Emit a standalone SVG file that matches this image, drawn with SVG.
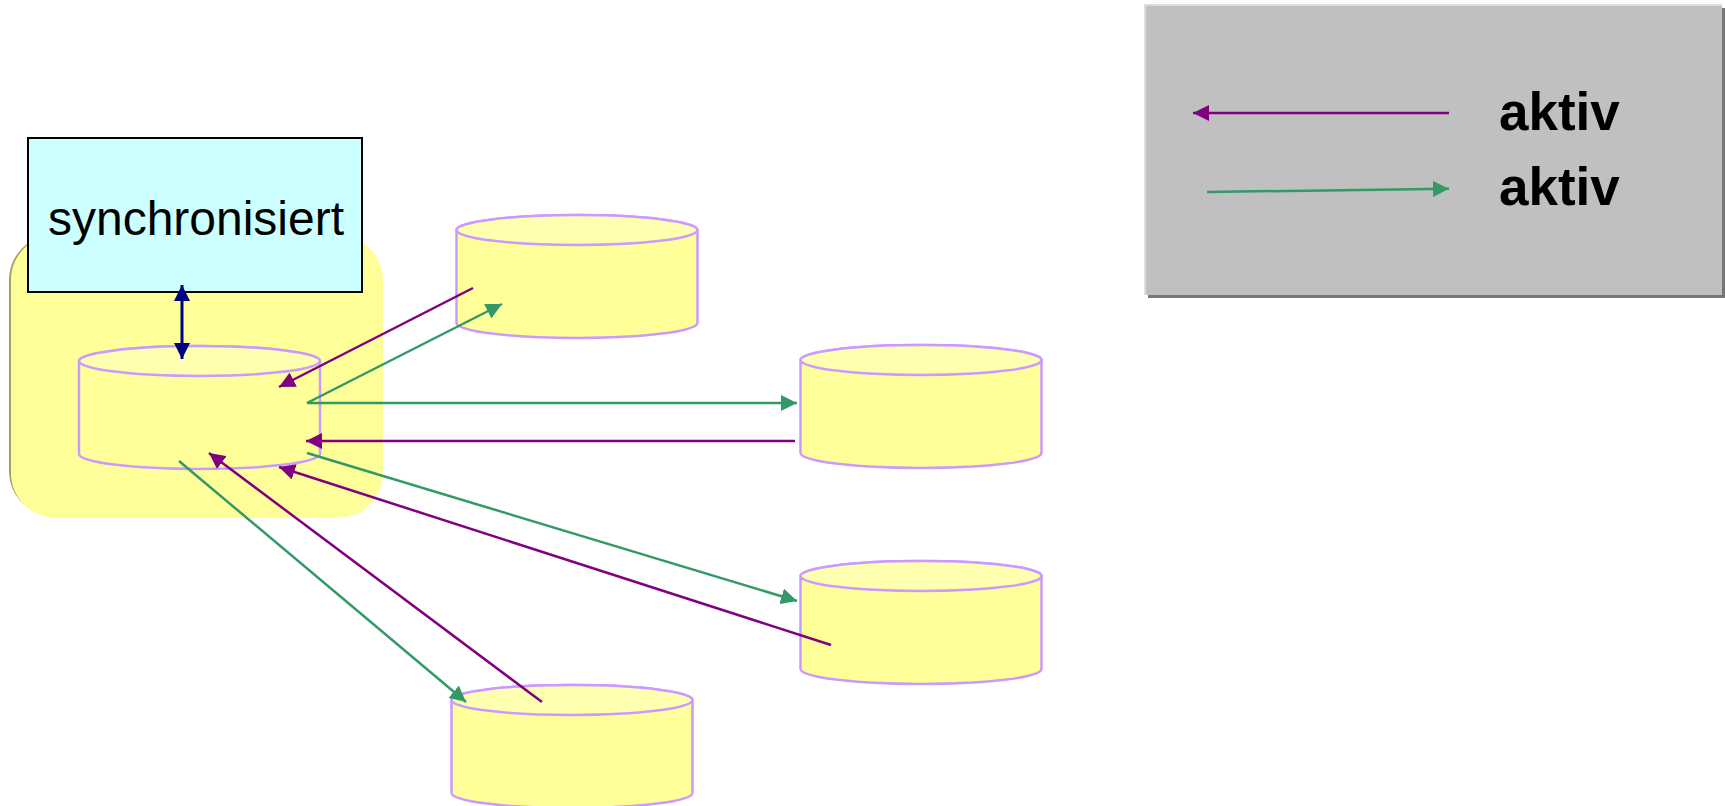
<svg xmlns="http://www.w3.org/2000/svg" width="1725" height="806" viewBox="0 0 1725 806">
<style>
.cylbody{fill:#ffff99;stroke:#cc99ff;stroke-width:2.5}
.cyltop{fill:#ffffb0;stroke:#cc99ff;stroke-width:2.5}
.p{stroke:#800080;stroke-width:2.5;fill:none;marker-end:url(#ap)}
.g{stroke:#339966;stroke-width:2.5;fill:none;marker-end:url(#ag)}
.lbl{font-family:"Liberation Sans",Arial,sans-serif;fill:#000}
</style>
<defs>
<marker id="ap" markerUnits="userSpaceOnUse" markerWidth="17" markerHeight="16" viewBox="0 0 17 16" refX="16" refY="8" orient="auto"><path d="M0,0 L16,8 L0,16 z" fill="#800080"/></marker>
<marker id="ag" markerUnits="userSpaceOnUse" markerWidth="17" markerHeight="16" viewBox="0 0 17 16" refX="16" refY="8" orient="auto"><path d="M0,0 L16,8 L0,16 z" fill="#339966"/></marker>
<marker id="an" markerUnits="userSpaceOnUse" markerWidth="17" markerHeight="16" viewBox="0 0 17 16" refX="16" refY="8" orient="auto-start-reverse"><path d="M0,0 L16,8 L0,16 z" fill="#000080"/></marker>
<g id="cyl">
<path class="cylbody" d="M0,15 V108 A120.5,15 0 0 0 241,108 V15 A120.5,15 0 0 0 0,15 Z"/>
<ellipse class="cyltop" cx="120.5" cy="15" rx="120.5" ry="15"/>
</g>
</defs>

<g id="site-bg">
<rect x="9" y="235" width="372" height="281" rx="45" ry="45" fill="#a6a264"/>
<rect x="11" y="235" width="372" height="283" rx="45" ry="45" fill="#ffff99"/>
</g>

<g id="sync-box">
<rect x="28" y="138" width="334" height="154" fill="#ccffff" stroke="#000" stroke-width="2"/>
<text class="lbl" x="196" y="235" font-size="48" text-anchor="middle">synchronisiert</text>
</g>

<g id="db-main"><use href="#cyl" x="79" y="346"/></g>
<g id="db-2"><use href="#cyl" x="456.5" y="215"/></g>
<g id="db-3"><use href="#cyl" x="800.5" y="345"/></g>
<g id="db-4"><use href="#cyl" x="800.5" y="561"/></g>
<g id="db-5"><use href="#cyl" x="451.5" y="685"/></g>

<g id="connectors">
<line x1="182" y1="285" x2="182" y2="359" stroke="#000080" stroke-width="3" marker-start="url(#an)" marker-end="url(#an)"/>
<line class="p" x1="473" y1="288" x2="279" y2="387"/>
<line class="g" x1="307" y1="403" x2="502" y2="304"/>
<line class="g" x1="307" y1="403" x2="797" y2="403"/>
<line class="p" x1="795" y1="441" x2="306" y2="441"/>
<line class="g" x1="307" y1="453" x2="797" y2="601"/>
<line class="p" x1="831" y1="645" x2="279" y2="467"/>
<line class="g" x1="179" y1="461" x2="466" y2="702"/>
<line class="p" x1="542" y1="702" x2="209" y2="453"/>
</g>

<g id="legend">
<rect x="1148" y="8" width="577" height="290" fill="#777777"/>
<rect x="1144" y="4" width="578" height="291" fill="#dddddd"/>
<rect x="1146" y="6" width="576" height="289" fill="#c0c0c0"/>
<line class="p" x1="1449" y1="113" x2="1193" y2="113"/>
<line class="g" x1="1207" y1="192" x2="1449" y2="188.7"/>
<text class="lbl" x="1499" y="130" font-size="53" font-weight="bold">aktiv</text>
<text class="lbl" x="1499" y="205" font-size="53" font-weight="bold">aktiv</text>
</g>
</svg>
